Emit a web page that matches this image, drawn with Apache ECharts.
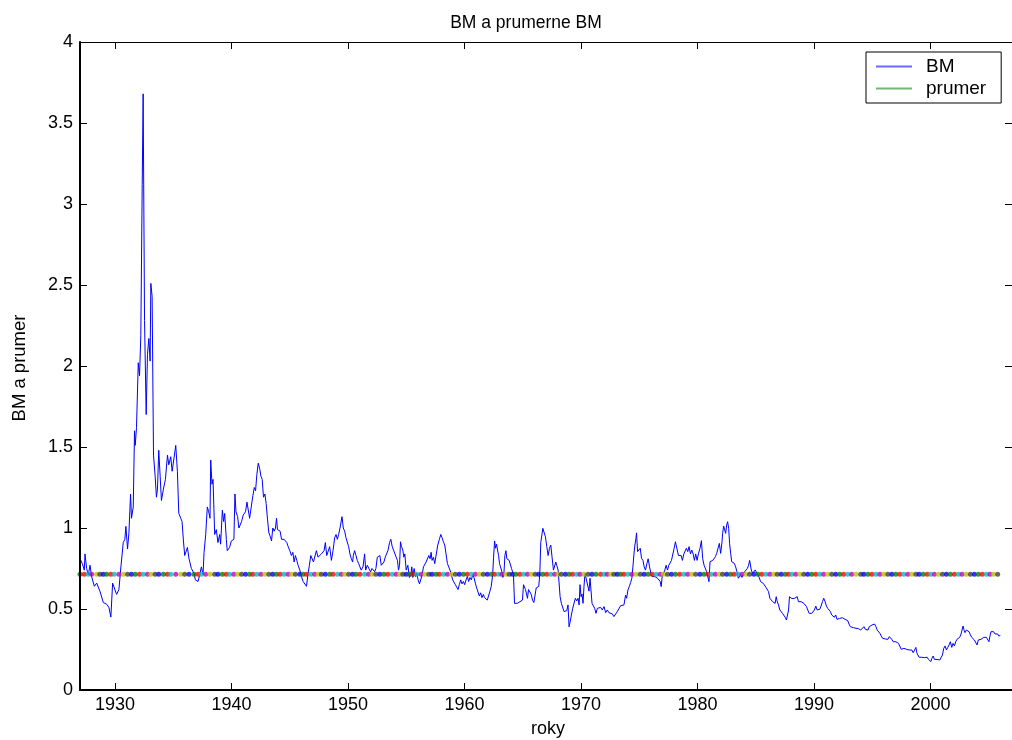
<!DOCTYPE html>
<html>
<head>
<meta charset="utf-8">
<script src="https://cdn.jsdelivr.net/npm/echarts@6/dist/echarts.min.js"></script>
<style>
html,body{margin:0;padding:0;background:#fff;}
#chart{width:1012px;height:740px;}
</style>
</head>
<body>
<div id="chart"></div>
<script>
// ---- data ----
const chartTitle = 'BM a prumerne BM';
const xAxisTitle = 'roky';
const yAxisTitle = 'BM a prumer';
const seriesNames = ['BM', 'prumer'];
const xTickYears = [1930, 1940, 1950, 1960, 1970, 1980, 1990, 2000];
const meanValue = 0.714;

const bm1927_1940 = [
[1927.00,0.81],[1927.20,0.78],[1927.37,0.74],[1927.43,0.84],[1927.57,0.75],[1927.71,0.71],[1927.86,0.77],[1928.00,0.70],
[1928.23,0.64],[1928.43,0.66],[1928.71,0.61],[1929.00,0.54],[1929.28,0.53],[1929.48,0.51],[1929.65,0.45],[1929.80,0.66],
[1929.94,0.65],[1930.14,0.59],[1930.34,0.62],[1930.51,0.76],[1930.71,0.91],[1930.85,0.93],[1930.94,1.01],[1931.08,0.87],
[1931.20,0.97],[1931.34,1.21],[1931.42,1.06],[1931.57,1.13],[1931.68,1.60],[1931.74,1.51],[1931.85,1.62],[1932.00,2.02],
[1932.11,1.94],[1932.22,2.19],[1932.34,3.12],[1932.42,3.68],[1932.54,2.28],[1932.68,1.70],[1932.79,2.07],[1932.91,2.17],
[1933.02,2.03],[1933.08,2.51],[1933.19,2.43],[1933.31,1.45],[1933.45,1.32],[1933.56,1.19],[1933.65,1.24],[1933.76,1.48],
[1933.88,1.32],[1933.99,1.17],[1934.16,1.24],[1934.33,1.30],[1934.51,1.45],[1934.62,1.39],[1934.79,1.44],[1934.91,1.35],
[1935.05,1.36],[1935.22,1.51],[1935.36,1.35],[1935.48,1.09],[1935.65,1.06],[1935.76,1.04],[1935.88,0.92],[1935.99,0.83],
[1936.13,0.82],[1936.22,0.88],[1936.36,0.81],[1936.56,0.75],[1936.79,0.72],[1936.90,0.68],[1937.13,0.67],[1937.27,0.71],
[1937.42,0.76],[1937.56,0.71],[1937.65,0.85],[1937.79,0.96],[1937.93,1.13],[1938.05,1.10],[1938.16,1.06],[1938.22,1.42],
[1938.33,1.27],[1938.42,1.30],[1938.56,0.96],[1938.70,0.99],[1938.84,0.91],[1938.99,0.96],[1939.07,0.90],[1939.22,1.11],
[1939.33,1.04],[1939.42,1.09],[1939.56,0.93],[1939.64,0.86],[1939.84,0.88],[1939.99,0.92],[1940.21,0.93]
];
const bm1940_1953 = [
[1940.30,1.21],[1940.39,1.10],[1940.53,1.07],[1940.64,1.00],[1940.87,1.04],[1941.01,1.08],[1941.21,1.10],[1941.33,1.16],
[1941.44,1.16],[1941.56,1.06],[1941.73,1.06],[1941.84,1.20],[1941.96,1.25],[1942.07,1.23],[1942.18,1.33],[1942.30,1.40],
[1942.35,1.40],[1942.44,1.36],[1942.53,1.32],[1942.64,1.30],[1942.75,1.19],[1942.87,1.21],[1942.98,1.15],[1943.10,1.05],
[1943.21,0.97],[1943.32,0.95],[1943.44,0.92],[1943.55,1.00],[1943.67,0.98],[1943.78,1.00],[1943.87,1.06],[1943.95,0.99],
[1944.07,1.00],[1944.18,0.98],[1944.30,0.93],[1944.41,0.94],[1944.52,0.93],[1944.64,0.94],[1944.75,0.91],[1944.87,0.885],
[1945.01,0.86],[1945.15,0.83],[1945.27,0.85],[1945.38,0.79],[1945.49,0.83],[1945.61,0.80],[1945.72,0.77],[1945.87,0.74],
[1946.01,0.70],[1946.15,0.67],[1946.29,0.67],[1946.44,0.64],[1946.58,0.72],[1946.69,0.77],[1946.81,0.83],[1946.92,0.82],
[1947.04,0.79],[1947.15,0.80],[1947.29,0.86],[1947.43,0.82],[1947.58,0.83],[1947.72,0.84],[1947.83,0.83],[1947.95,0.86],
[1948.06,0.91],[1948.18,0.83],[1948.29,0.84],[1948.43,0.885],[1948.58,0.80],[1948.72,0.86],[1948.86,0.94],[1948.98,0.96],
[1949.09,0.93],[1949.20,0.96],[1949.32,1.00],[1949.43,1.01],[1949.49,1.07],[1949.60,1.00],[1949.72,0.98],[1949.83,0.94],
[1949.95,0.93],[1950.06,0.885],[1950.17,0.84],[1950.29,0.81],[1950.40,0.79],[1950.46,0.83],[1950.57,0.86],[1950.69,0.83],
[1950.80,0.80],[1950.92,0.78],[1951.03,0.76],[1951.14,0.74],[1951.29,0.76],[1951.43,0.84],[1951.52,0.74],[1951.66,0.77],
[1951.77,0.76],[1951.94,0.73],[1952.06,0.75],[1952.17,0.74],[1952.29,0.73],[1952.40,0.75],[1952.52,0.82],[1952.63,0.81],
[1952.74,0.83],[1952.86,0.77],[1952.97,0.78],[1953.09,0.79],[1953.20,0.82],[1953.31,0.83],[1953.43,0.86]
];
const bm1953_1966 = [
[1953.57,0.91],[1953.68,0.93],[1953.80,0.885],[1953.91,0.864],[1954.03,0.864],[1954.14,0.82],[1954.25,0.80],[1954.34,0.74],
[1954.43,0.77],[1954.51,0.915],[1954.60,0.885],[1954.71,0.864],[1954.80,0.82],[1954.88,0.84],[1955.00,0.74],[1955.14,0.77],
[1955.28,0.695],[1955.40,0.71],[1955.48,0.76],[1955.57,0.695],[1955.68,0.75],[1955.80,0.70],[1955.91,0.72],[1956.02,0.68],
[1956.14,0.655],[1956.28,0.65],[1956.37,0.71],[1956.48,0.76],[1956.60,0.75],[1956.71,0.79],[1956.85,0.80],[1956.94,0.83],
[1957.05,0.81],[1957.14,0.85],[1957.22,0.80],[1957.34,0.82],[1957.45,0.78],[1957.57,0.79],[1957.71,0.895],[1957.85,0.93],
[1957.97,0.96],[1958.08,0.94],[1958.19,0.915],[1958.31,0.895],[1958.42,0.84],[1958.54,0.78],[1958.65,0.77],[1958.76,0.74],
[1958.88,0.71],[1958.99,0.68],[1959.11,0.675],[1959.22,0.65],[1959.34,0.64],[1959.45,0.62],[1959.56,0.65],[1959.68,0.68],
[1959.79,0.655],[1959.91,0.67],[1960.02,0.65],[1960.14,0.68],[1960.25,0.70],[1960.36,0.67],[1960.48,0.695],[1960.59,0.68],
[1960.71,0.71],[1960.82,0.695],[1960.93,0.66],[1961.05,0.63],[1961.16,0.62],[1961.28,0.58],[1961.39,0.60],[1961.50,0.57],
[1961.62,0.59],[1961.73,0.57],[1961.85,0.566],[1961.96,0.555],[1962.07,0.566],[1962.19,0.61],[1962.30,0.64],[1962.42,0.71],
[1962.50,0.82],[1962.59,0.92],[1962.67,0.875],[1962.76,0.90],[1962.84,0.864],[1962.93,0.83],[1963.01,0.78],[1963.10,0.76],
[1963.21,0.73],[1963.30,0.695],[1963.39,0.72],[1963.47,0.83],[1963.56,0.86],[1963.64,0.81],[1963.73,0.82],[1963.84,0.80],
[1963.96,0.80],[1964.04,0.75],[1964.13,0.73],[1964.21,0.71],[1964.30,0.535],[1964.41,0.525],[1964.53,0.535],[1964.64,0.53],
[1964.76,0.545],[1964.87,0.545],[1964.98,0.555],[1965.07,0.65],[1965.16,0.655],[1965.24,0.62],[1965.33,0.62],[1965.41,0.566],
[1965.50,0.62],[1965.61,0.61],[1965.73,0.59],[1965.84,0.555],[1965.96,0.54],[1966.07,0.54],[1966.16,0.63],[1966.27,0.634],
[1966.38,0.64],[1966.47,0.72],[1966.55,0.91],[1966.64,0.915],[1966.73,0.998]
];
const bm1966_1980 = [
[1966.84,1.01],[1966.95,0.946],[1967.07,0.885],[1967.18,0.83],[1967.30,0.875],[1967.41,0.895],[1967.52,0.82],[1967.64,0.74],
[1967.75,0.73],[1967.84,0.79],[1967.92,0.77],[1968.04,0.74],[1968.12,0.73],[1968.21,0.576],[1968.32,0.535],[1968.44,0.525],
[1968.55,0.484],[1968.67,0.494],[1968.78,0.49],[1968.89,0.525],[1968.98,0.39],[1969.07,0.42],[1969.18,0.463],[1969.29,0.504],
[1969.41,0.515],[1969.52,0.566],[1969.64,0.55],[1969.75,0.566],[1969.84,0.525],[1969.92,0.65],[1970.01,0.576],[1970.09,0.593],
[1970.18,0.535],[1970.26,0.638],[1970.35,0.72],[1970.44,0.69],[1970.52,0.68],[1970.61,0.70],[1970.69,0.61],[1970.78,0.69],
[1970.86,0.70],[1970.95,0.535],[1971.06,0.525],[1971.18,0.504],[1971.29,0.473],[1971.41,0.504],[1971.55,0.498],[1971.69,0.51],
[1971.83,0.494],[1971.98,0.515],[1972.12,0.477],[1972.26,0.494],[1972.41,0.477],[1972.55,0.473],[1972.69,0.47],[1972.83,0.453],
[1972.98,0.457],[1973.12,0.484],[1973.26,0.494],[1973.40,0.52],[1973.55,0.51],[1973.69,0.525],[1973.83,0.586],[1973.92,0.566],
[1974.03,0.617],[1974.15,0.638],[1974.26,0.663],[1974.37,0.69],[1974.46,0.76],[1974.55,0.84],[1974.63,0.895],[1974.72,0.936],
[1974.77,0.97],[1974.86,0.854],[1974.97,0.864],[1975.09,0.875],[1975.20,0.813],[1975.32,0.80],[1975.43,0.76],[1975.54,0.74],
[1975.66,0.78],[1975.77,0.81],[1975.89,0.76],[1976.00,0.72],[1976.12,0.70],[1976.23,0.69],[1976.34,0.70],[1976.46,0.695],
[1976.57,0.69],[1976.69,0.70],[1976.80,0.67],[1976.89,0.638],[1976.97,0.70],[1977.09,0.72],[1977.20,0.74],[1977.31,0.77],
[1977.43,0.74],[1977.54,0.77],[1977.66,0.77],[1977.77,0.80],[1977.88,0.81],[1978.00,0.875],[1978.11,0.915],[1978.20,0.925],
[1978.28,0.905],[1978.37,0.83],[1978.48,0.84],[1978.60,0.83],[1978.71,0.80],[1978.83,0.84],[1978.94,0.83],[1979.05,0.875],
[1979.17,0.854],[1979.28,0.885],[1979.40,0.84],[1979.51,0.864],[1979.63,0.84],[1979.74,0.80],[1979.85,0.84],[1979.97,0.80],
[1980.08,0.84]
];
const bm1980_1993 = [
[1980.22,0.875],[1980.34,0.922],[1980.45,0.81],[1980.57,0.77],[1980.68,0.76],[1980.79,0.73],[1980.91,0.72],[1980.99,0.669],
[1981.08,0.792],[1981.19,0.792],[1981.31,0.80],[1981.42,0.80],[1981.54,0.823],[1981.65,0.843],[1981.77,0.854],[1981.88,0.905],
[1981.99,0.843],[1982.11,0.915],[1982.16,0.967],[1982.25,1.012],[1982.34,0.988],[1982.42,0.967],[1982.51,1.019],[1982.59,1.039],
[1982.68,0.998],[1982.76,0.905],[1982.85,0.843],[1982.94,0.792],[1983.05,0.792],[1983.16,0.782],[1983.28,0.76],[1983.39,0.73],
[1983.51,0.69],[1983.59,0.679],[1983.71,0.71],[1983.82,0.695],[1983.93,0.70],[1984.05,0.73],[1984.16,0.741],[1984.28,0.75],
[1984.39,0.77],[1984.48,0.80],[1984.56,0.81],[1984.62,0.741],[1984.73,0.72],[1984.85,0.73],[1984.96,0.741],[1985.08,0.73],
[1985.19,0.71],[1985.30,0.695],[1985.42,0.669],[1985.53,0.679],[1985.65,0.658],[1985.76,0.648],[1985.88,0.634],[1985.99,0.627],
[1986.10,0.607],[1986.22,0.566],[1986.33,0.556],[1986.45,0.545],[1986.56,0.556],[1986.67,0.535],[1986.76,0.576],[1986.85,0.545],
[1986.96,0.525],[1987.07,0.494],[1987.19,0.484],[1987.30,0.473],[1987.42,0.463],[1987.53,0.449],[1987.64,0.432],[1987.73,0.428],
[1987.82,0.494],[1987.90,0.576],[1987.99,0.576],[1988.10,0.564],[1988.22,0.576],[1988.33,0.566],[1988.44,0.566],[1988.56,0.576],
[1988.67,0.545],[1988.79,0.55],[1988.90,0.545],[1989.01,0.556],[1989.13,0.535],[1989.24,0.535],[1989.36,0.515],[1989.47,0.494],
[1989.59,0.473],[1989.70,0.463],[1989.81,0.473],[1989.93,0.463],[1990.04,0.494],[1990.16,0.518],[1990.27,0.494],[1990.38,0.484],
[1990.50,0.498],[1990.61,0.518],[1990.73,0.545],[1990.84,0.566],[1990.96,0.545],[1991.07,0.518],[1991.18,0.504],[1991.30,0.494],
[1991.41,0.484],[1991.53,0.463],[1991.64,0.473],[1991.75,0.449],[1991.87,0.463],[1991.98,0.436],[1992.10,0.442],[1992.21,0.442],
[1992.33,0.438],[1992.44,0.446],[1992.55,0.44],[1992.67,0.436],[1992.78,0.44],[1992.90,0.428],[1993.01,0.407],[1993.12,0.391],
[1993.24,0.387]
];
const bm1993_2006 = [
[1993.38,0.385],[1993.61,0.381],[1993.81,0.379],[1994.01,0.37],[1994.18,0.381],[1994.29,0.391],[1994.41,0.375],[1994.52,0.381],
[1994.64,0.37],[1994.75,0.391],[1994.86,0.381],[1994.98,0.401],[1995.09,0.391],[1995.21,0.407],[1995.32,0.391],[1995.43,0.37],
[1995.55,0.36],[1995.66,0.35],[1995.78,0.333],[1995.89,0.319],[1996.01,0.329],[1996.12,0.315],[1996.23,0.325],[1996.35,0.313],
[1996.46,0.329],[1996.58,0.319],[1996.69,0.313],[1996.80,0.298],[1996.92,0.304],[1997.03,0.298],[1997.15,0.309],[1997.26,0.288],
[1997.38,0.278],[1997.49,0.251],[1997.60,0.247],[1997.72,0.257],[1997.83,0.247],[1997.95,0.251],[1998.06,0.243],[1998.17,0.247],
[1998.29,0.237],[1998.40,0.247],[1998.52,0.23],[1998.63,0.237],[1998.75,0.263],[1998.83,0.23],[1998.92,0.216],[1999.03,0.202],
[1999.14,0.206],[1999.26,0.202],[1999.37,0.206],[1999.49,0.2],[1999.60,0.195],[1999.72,0.202],[1999.83,0.189],[1999.94,0.185],
[2000.03,0.175],[2000.12,0.195],[2000.23,0.21],[2000.34,0.189],[2000.46,0.195],[2000.57,0.189],[2000.69,0.195],[2000.80,0.185],
[2000.91,0.195],[2001.03,0.216],[2001.14,0.257],[2001.26,0.272],[2001.37,0.247],[2001.49,0.263],[2001.60,0.278],[2001.71,0.298],
[2001.83,0.263],[2001.94,0.288],[2002.06,0.272],[2002.17,0.298],[2002.28,0.313],[2002.40,0.309],[2002.51,0.325],[2002.63,0.346],
[2002.71,0.37],[2002.80,0.395],[2002.88,0.37],[2002.97,0.354],[2003.08,0.37],[2003.20,0.375],[2003.31,0.36],[2003.43,0.34],
[2003.54,0.325],[2003.65,0.319],[2003.77,0.309],[2003.88,0.313],[2004.00,0.278],[2004.11,0.309],[2004.22,0.319],[2004.34,0.313],
[2004.45,0.319],[2004.57,0.325],[2004.68,0.317],[2004.80,0.325],[2004.91,0.313],[2005.02,0.298],[2005.11,0.333],[2005.20,0.36],
[2005.31,0.354],[2005.42,0.36],[2005.54,0.346],[2005.65,0.34],[2005.77,0.346],[2005.88,0.333],[2006.00,0.337]
];

// MATLAB default colour order, cycled by the single-point "prumer" lines
const matlabColors = ['#008000', '#ff0000', '#00bfbf', '#bf00bf', '#bfbf00', '#404040', '#0000ff'];

// ---- build ----
const bmData = [].concat(bm1927_1940, bm1940_1953, bm1953_1966, bm1966_1980, bm1980_1993, bm1993_2006);
// the mean is drawn as a dot at observation dates, thinned so that dots do not pile up
const meanDotMinGap = 0.27; // years
const meanData = [];
bmData.forEach(p => {
  if (!meanData.length || p[0] - meanData[meanData.length - 1][0] >= meanDotMinGap) meanData.push([p[0], meanValue]);
});

const FONT = 'Liberation Sans, Arial, sans-serif';
const chart = echarts.init(document.getElementById('chart'), null, {renderer: 'canvas'});

function boxAxis(pos, showLabels, lineWidth) {
  const isX = pos === 'bottom' || pos === 'top';
  const a = {
    type: 'value', position: pos,
    axisLine: {show: true, onZero: false, lineStyle: {color: '#000', width: lineWidth}},
    axisTick: {show: true, inside: true, length: 7, lineStyle: {color: '#000', width: 1}},
    axisLabel: showLabels
      ? {show: true, fontFamily: FONT, fontSize: 18, color: '#000', margin: isX ? 6 : 7}
      : {show: false},
    splitLine: {show: false},
    z: 10
  };
  if (isX) {
    a.min = 1927; a.max = 2007;
    a.axisTick.customValues = xTickYears;
    if (showLabels) { a.axisLabel.customValues = xTickYears; a.axisLabel.formatter = v => String(v); }
  } else {
    a.min = 0; a.max = 4; a.interval = 0.5;
  }
  return a;
}

const option = {
  animation: false,
  backgroundColor: '#ffffff',
  title: {
    text: chartTitle, left: 521, top: 9, textAlign: 'center',
    textStyle: {fontFamily: FONT, fontSize: 17.5, fontWeight: 'normal', color: '#000'}
  },
  legend: {
    orient: 'vertical', left: 866, top: 52,
    backgroundColor: '#fff', borderColor: '#000', borderWidth: 1, borderRadius: 0,
    padding: [4, 15, 4, 10], itemWidth: 36, itemHeight: 2, itemGap: 1,
    textStyle: {fontFamily: FONT, fontSize: 19, color: '#000', lineHeight: 21, padding: [0, 0, 0, 9]},
    data: [
      {name: seriesNames[0], icon: 'rect', itemStyle: {color: '#6a6aff'}},
      {name: seriesNames[1], icon: 'rect', itemStyle: {color: '#4ea84e'}}
    ]
  },
  grid: {left: 80, top: 42, width: 934.4, height: 648, containLabel: false},
  xAxis: [boxAxis('bottom', true, 2), boxAxis('top', false, 1)],
  yAxis: [boxAxis('left', true, 2), boxAxis('right', false, 1)],
  graphic: [
    {type: 'text', x: 548, y: 729,
     style: {text: xAxisTitle, font: '18px ' + FONT, fill: '#000', textAlign: 'center', textVerticalAlign: 'middle'}},
    {type: 'text', x: 20, y: 368, rotation: Math.PI / 2,
     style: {text: yAxisTitle, font: '18.5px ' + FONT, fill: '#000', textAlign: 'center', textVerticalAlign: 'middle'}}
  ],
  series: [
    {
      name: seriesNames[0], type: 'line', data: bmData, xAxisIndex: 0, yAxisIndex: 0,
      showSymbol: false, symbol: 'none', color: '#0000ff',
      lineStyle: {color: '#0000ff', width: 1}, z: 2
    },
    {
      name: seriesNames[1], type: 'scatter', data: meanData, xAxisIndex: 0, yAxisIndex: 0,
      symbol: 'circle', symbolSize: 5, color: '#008000',
      itemStyle: {color: p => matlabColors[p.dataIndex % matlabColors.length]}, z: 3
    }
  ]
};
chart.setOption(option);
</script>
</body>
</html>
